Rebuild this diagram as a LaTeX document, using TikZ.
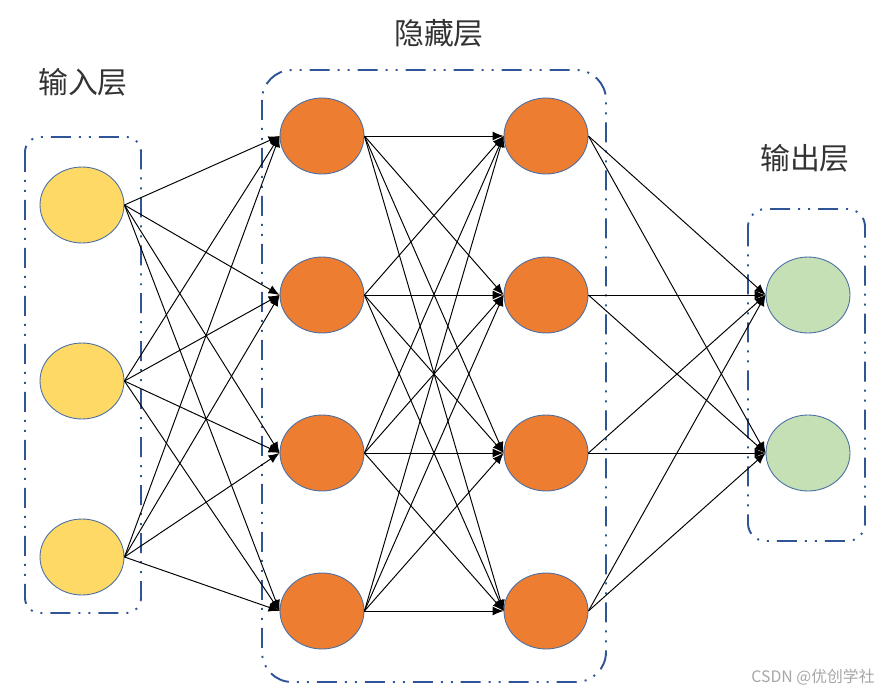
\documentclass[tikz,border=0pt]{standalone}
\usepackage{fontspec}
\newfontfamily\cjk{Noto Sans CJK SC}
\usetikzlibrary{arrows.meta,shapes.geometric}
\definecolor{inyellow}{HTML}{FFD966}
\definecolor{hidorange}{HTML}{ED7D31}
\definecolor{outgreen}{HTML}{C5E0B4}
\definecolor{rimblue}{HTML}{4A6FA5}
\definecolor{boxblue}{HTML}{2F5597}
\tikzset{
  neuron/.style={ellipse, draw=rimblue, line width=0.5pt, minimum width=1.68cm, minimum height=1.52cm, inner sep=0pt},
  layerbox/.style={draw=boxblue, line width=1.1pt, dash pattern=on 0.4cm off 0.16cm on 0.04cm off 0.16cm on 0.04cm off 0.16cm},
  layername/.style={font=\cjk\fontsize{17pt}{20pt}\selectfont, text=black!80},
  link/.style={-{Latex[length=2.2mm,width=1.8mm]}, line width=0.55pt}
}
\begin{document}
\begin{tikzpicture}[x=0.02cm, y=-0.02cm]
    \useasboundingbox (0,0) rectangle (883,693);
    % layer boxes
    \draw[layerbox, rounded corners=0.3cm] (25,137) rectangle (141,613);
    \draw[layerbox, rounded corners=0.6cm] (262,70) rectangle (606,682);
    \draw[layerbox, rounded corners=0.35cm] (748,209) rectangle (865,541);
    % layer names
    \node[layername] (Lin) at (83,82) {输入层};
    \node[layername] (Lhid) at (439,33) {隐藏层};
    \node[layername] (Lout) at (805,158) {输出层};
    % input layer
    \node[neuron, fill=inyellow] (I1) at (82,205) {};
    \node[neuron, fill=inyellow] (I2) at (82,381) {};
    \node[neuron, fill=inyellow] (I3) at (82,557) {};
    % hidden layers
    \node[neuron, fill=hidorange] (A1) at (322,136) {};
    \node[neuron, fill=hidorange] (A2) at (322,295) {};
    \node[neuron, fill=hidorange] (A3) at (322,453) {};
    \node[neuron, fill=hidorange] (A4) at (322,611) {};
    \node[neuron, fill=hidorange] (B1) at (546,136) {};
    \node[neuron, fill=hidorange] (B2) at (546,295) {};
    \node[neuron, fill=hidorange] (B3) at (546,453) {};
    \node[neuron, fill=hidorange] (B4) at (546,611) {};
    % output layer
    \node[neuron, fill=outgreen] (O1) at (808,295) {};
    \node[neuron, fill=outgreen] (O2) at (808,453) {};
    % connections
    \foreach \i in {1,2,3}
      \foreach \j in {1,2,3,4}
        \path[link] (I\i.east) edge (A\j.west);
    \foreach \i in {1,2,3,4}
      \foreach \j in {1,2,3,4}
        \path[link] (A\i.east) edge (B\j.west);
    \foreach \i in {1,2,3,4}
      \foreach \j in {1,2}
        \path[link] (B\i.east) edge (O\j.west);
    \node[font=\cjk\fontsize{9pt}{11pt}\selectfont, text=black!35] (Mark) at (813,677) {CSDN @优创学社};
  \end{tikzpicture}
\end{document}
